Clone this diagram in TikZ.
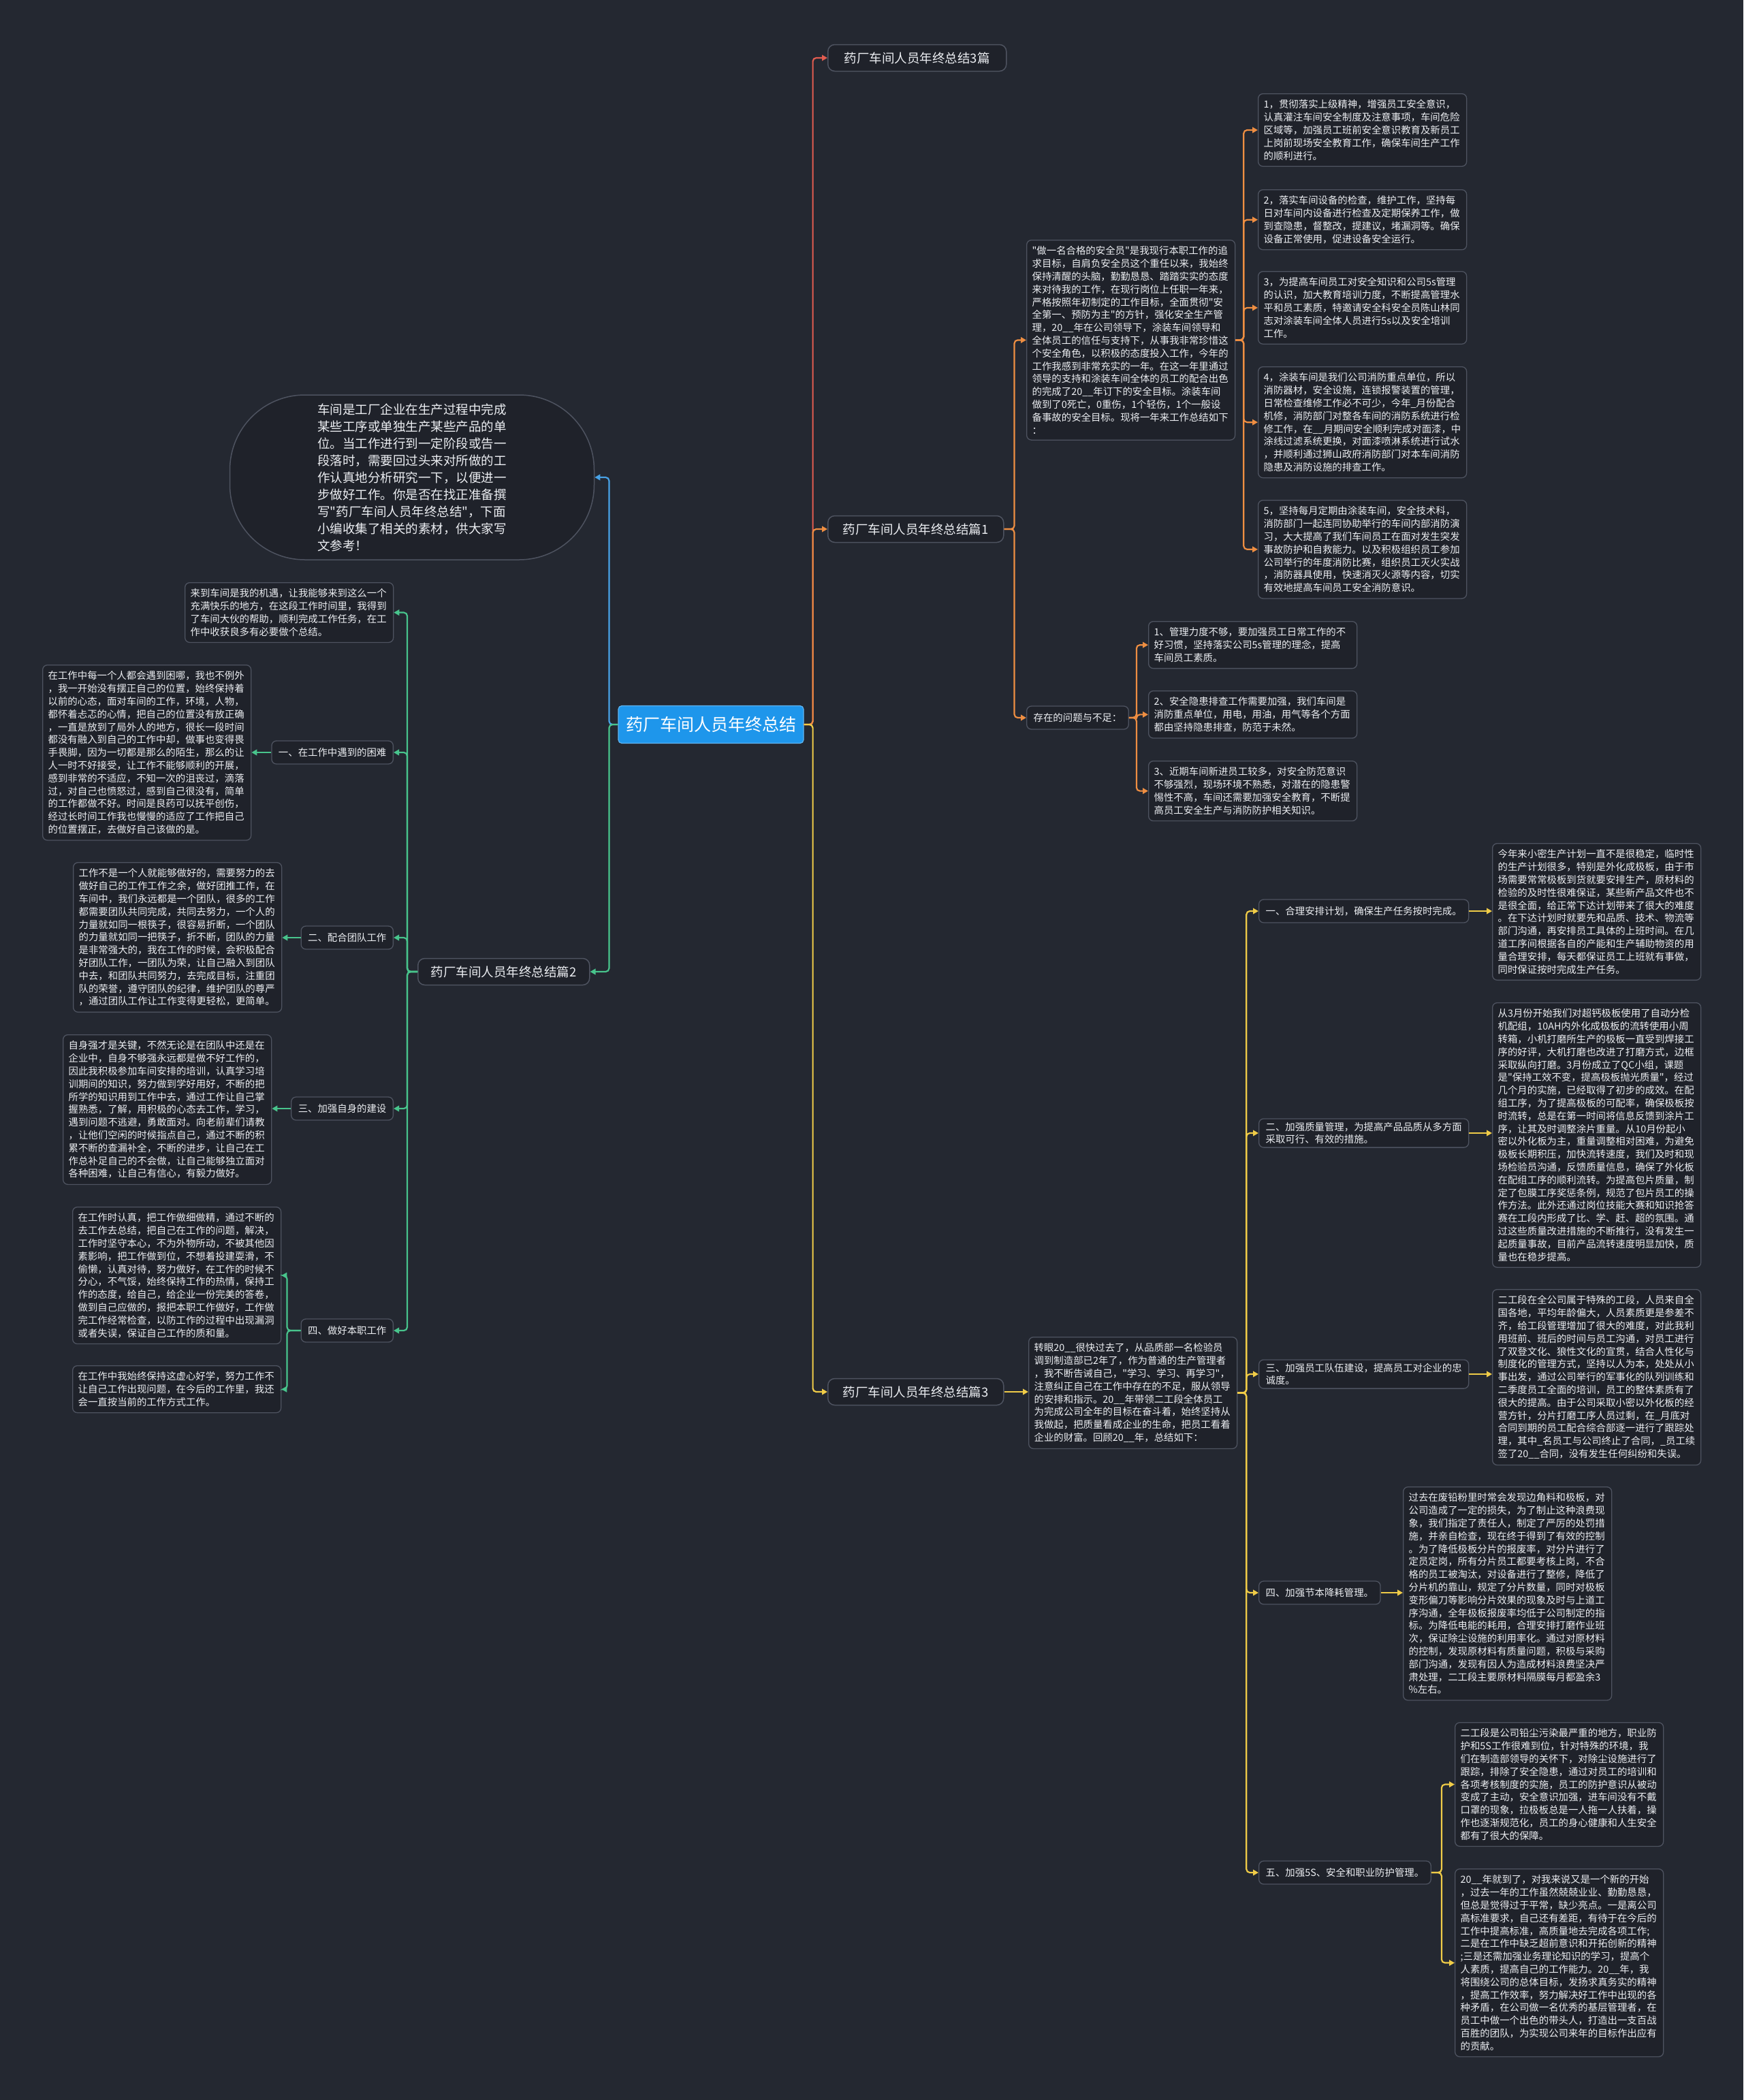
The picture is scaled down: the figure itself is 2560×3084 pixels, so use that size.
\documentclass[tikz,border=0pt]{standalone}
\usepackage{fontspec}
\setmainfont{Noto Sans CJK SC}[Ligatures=TeXOff]
\usetikzlibrary{arrows.meta,calc}
\definecolor{bg}{RGB}{36,40,49}
\definecolor{boxfill}{RGB}{31,34,42}
\definecolor{boxline}{RGB}{78,83,96}
\definecolor{txt}{RGB}{236,238,242}
\definecolor{rootfill}{RGB}{30,150,235}
\definecolor{cred}{RGB}{226,92,80}
\definecolor{corange}{RGB}{238,142,66}
\definecolor{cyellow}{RGB}{240,204,72}
\definecolor{cblue}{RGB}{72,162,230}
\definecolor{cgreen}{RGB}{72,196,140}
\newcommand\fsz{\fontsize{14.4pt}{18.8pt}\selectfont}
\newcommand\fbr{\fontsize{18.5pt}{22pt}\selectfont}
\newcommand\frt{\fontsize{25pt}{30pt}\selectfont}
\newcommand\fin{\fontsize{18.5pt}{25pt}\selectfont}
\tikzset{
  conn/.style={line width=2.2pt, rounded corners=5pt, -{Triangle[length=8pt,width=8.5pt]}},
  txtbox/.style={draw=boxline, fill=boxfill, line width=1.3pt, rounded corners=7pt, text=txt, font=\fsz, align=left, text width=290pt, inner xsep=8pt, inner ysep=9pt, anchor=north west},
  lbl/.style={draw=boxline, fill=boxfill, line width=1.3pt, rounded corners=7pt, text=txt, font=\fsz, align=left, inner xsep=10pt, inner ysep=5pt, minimum height=34pt},
  branch/.style={draw=boxline, fill=boxfill, line width=1.5pt, rounded corners=10pt, text=txt, font=\fbr, minimum height=39pt, inner xsep=10pt, anchor=west},
}
\begin{document}
\begin{tikzpicture}[x=1pt,y=-1pt]
\fill[bg] (0,0) rectangle (2560,3084);
\useasboundingbox (0,0) rectangle (2560,3084);

% root
\node[fill=rootfill, draw=rootfill!70!white, line width=1.2pt, rounded corners=5pt, text=white, font=\frt, minimum width=272pt, minimum height=55pt] (root) at (1044,1064) {药厂车间人员年终总结};

% intro
\node[draw=boxline, fill=boxfill, line width=1.5pt, rounded corners=110pt, minimum width=535pt, minimum height=242pt, text=txt, font=\fin, align=left] (intro) at (605,701) {车间是工厂企业在生产过程中完成\\某些工序或单独生产某些产品的单\\位。当工作进行到一定阶段或告一\\段落时，需要回过头来对所做的工\\作认真地分析研究一下，以便进一\\步做好工作。你是否在找正准备撰\\写"药厂车间人员年终总结"，下面\\小编收集了相关的素材，供大家写\\文参考！};

% first-level branches
\node[branch, minimum width=262pt] (pA) at (1215,85) {药厂车间人员年终总结3篇};
\node[branch, minimum width=258pt] (pB) at (1215,777) {药厂车间人员年终总结篇1};
\node[branch, minimum width=258pt] (pC) at (1215,2044) {药厂车间人员年终总结篇3};
\node[branch, minimum width=252pt] (pD) at (613,1427) {药厂车间人员年终总结篇2};

% ===== 篇1 =====
\node[txtbox] (m1) at (1507,352) {"做一名合格的安全员"是我现行本职工作的追\\求目标，自肩负安全员这个重任以来，我始终\\保持清醒的头脑，勤勤恳恳、踏踏实实的态度\\来对待我的工作，在现行岗位上任职一年来，\\严格按照年初制定的工作目标，全面贯彻"安\\全第一、预防为主"的方针，强化安全生产管\\理，20\_\_年在公司领导下，涂装车间领导和\\全体员工的信任与支持下，从事我非常珍惜这\\个安全角色，以积极的态度投入工作，今年的\\工作我感到非常充实的一年。在这一年里通过\\领导的支持和涂装车间全体的员工的配合出色\\的完成了20\_\_年订下的安全目标。涂装车间\\做到了0死亡，0重伤，1个轻伤，1个一般设\\备事故的安全目标。现将一年来工作总结如下\\：};

\node[txtbox] (t1) at (1847,137) {1，贯彻落实上级精神，增强员工安全意识，\\认真灌注车间安全制度及注意事项，车间危险\\区域等，加强员工班前安全意识教育及新员工\\上岗前现场安全教育工作，确保车间生产工作\\的顺利进行。};
\node[txtbox] (t2) at (1847,278) {2，落实车间设备的检查，维护工作，坚持每\\日对车间内设备进行检查及定期保养工作，做\\到查隐患，督整改，提建议，堵漏洞等。确保\\设备正常使用，促进设备安全运行。};
\node[txtbox] (t3) at (1847,398) {3，为提高车间员工对安全知识和公司5s管理\\的认识，加大教育培训力度，不断提高管理水\\平和员工素质，特邀请安全科安全员陈山林同\\志对涂装车间全体人员进行5s以及安全培训\\工作。};
\node[txtbox] (t4) at (1847,538) {4，涂装车间是我们公司消防重点单位，所以\\消防器材，安全设施，连锁报警装置的管理，\\日常检查维修工作必不可少，今年\_月份配合\\机修，消防部门对整各车间的消防系统进行检\\修工作，在\_\_月期间安全顺利完成对面漆，中\\涂线过滤系统更换，对面漆喷淋系统进行试水\\，并顺利通过狮山政府消防部门对本车间消防\\隐患及消防设施的排查工作。};
\node[txtbox] (t5) at (1847,734) {5，坚持每月定期由涂装车间，安全技术科，\\消防部门一起连同协助举行的车间内部消防演\\习，大大提高了我们车间员工在面对发生突发\\事故防护和自救能力。以及积极组织员工参加\\公司举行的年度消防比赛，组织员工灭火实战\\，消防器具使用，快速消灭火源等内容，切实\\有效地提高车间员工安全消防意识。};

\node[lbl, anchor=west] (q) at (1507,1054) {存在的问题与不足：};
\node[txtbox] (q1) at (1686,912) {1、管理力度不够，要加强员工日常工作的不\\好习惯，坚持落实公司5s管理的理念，提高\\车间员工素质。};
\node[txtbox] (q2) at (1686,1014) {2、安全隐患排查工作需要加强，我们车间是\\消防重点单位，用电，用油，用气等各个方面\\都由坚持隐患排查，防范于未然。};
\node[txtbox] (q3) at (1686,1117) {3、近期车间新进员工较多，对安全防范意识\\不够强烈，现场环境不熟悉，对潜在的隐患警\\惕性不高，车间还需要加强安全教育，不断提\\高员工安全生产与消防防护相关知识。};

% ===== 篇3 =====
\node[txtbox] (m3) at (1510,1963) {转眼20\_\_很快过去了，从品质部一名检验员\\调到制造部已2年了，作为普通的生产管理者\\，我不断告诫自己，"学习、学习、再学习"，\\注意纠正自己在工作中存在的不足，服从领导\\的安排和指示。20\_\_年带领二工段全体员工\\为完成公司全年的目标在奋斗着，始终坚持从\\我做起，把质量看成企业的生命，把员工看着\\企业的财富。回顾20\_\_年，总结如下：};

\node[lbl, anchor=west] (r1) at (1848,1338) {一、合理安排计划，确保生产任务按时完成。};
\node[lbl, anchor=west] (r2) at (1848,1664) {二、加强质量管理，为提高产品品质从多方面\\采取可行、有效的措施。};
\node[lbl, anchor=west] (r3) at (1848,2018) {三、加强员工队伍建设，提高员工对企业的忠\\诚度。};
\node[lbl, anchor=west] (r4) at (1848,2339) {四、加强节本降耗管理。};
\node[lbl, anchor=west] (r5) at (1848,2750) {五、加强5S、安全和职业防护管理。};

\node[txtbox] (b1) at (2191,1238) {今年来小密生产计划一直不是很稳定，临时性\\的生产计划很多，特别是外化成极板，由于市\\场需要常常极板到货就要安排生产，原材料的\\检验的及时性很难保证，某些新产品文件也不\\是很全面，给正常下达计划带来了很大的难度\\。在下达计划时就要先和品质、技术、物流等\\部门沟通，再安排员工具体的上班时间。在几\\道工序间根据各自的产能和生产辅助物资的用\\量合理安排，每天都保证员工上班就有事做，\\同时保证按时完成生产任务。};
\node[txtbox] (b2) at (2191,1472) {从3月份开始我们对超钙极板使用了自动分检\\机配组，10AH内外化成极板的流转使用小周\\转箱，小机打磨所生产的极板一直受到焊接工\\序的好评，大机打磨也改进了打磨方式，边框\\采取纵向打磨。3月份成立了QC小组，课题\\是"保持工效不变，提高极板抛光质量"，经过\\几个月的实施，已经取得了初步的成效。在配\\组工序，为了提高极板的可配率，确保极板按\\时流转，总是在第一时间将信息反馈到涂片工\\序，让其及时调整涂片重量。从10月份起小\\密以外化板为主，重量调整相对困难，为避免\\极板长期积压，加快流转速度，我们及时和现\\场检验员沟通，反馈质量信息，确保了外化板\\在配组工序的顺利流转。为提高包片质量，制\\定了包膜工序奖惩条例，规范了包片员工的操\\作方法。此外还通过岗位技能大赛和知识抢答\\赛在工段内形成了比、学、赶、超的氛围。通\\过这些质量改进措施的不断推行，没有发生一\\起质量事故，目前产品流转速度明显加快，质\\量也在稳步提高。};
\node[txtbox] (b3) at (2191,1893) {二工段在全公司属于特殊的工段，人员来自全\\国各地，平均年龄偏大，人员素质更是参差不\\齐，给工段管理增加了很大的难度，对此我利\\用班前、班后的时间与员工沟通，对员工进行\\了双登文化、狼性文化的宣贯，结合人性化与\\制度化的管理方式，坚持以人为本，处处从小\\事出发，通过公司举行的军事化的队列训练和\\二季度员工全面的培训，员工的整体素质有了\\很大的提高。由于公司采取小密以外化板的经\\营方针，分片打磨工序人员过剩，在\_月底对\\合同到期的员工配合综合部逐一进行了跟踪处\\理，其中\_名员工与公司终止了合同，\_员工续\\签了20\_\_合同，没有发生任何纠纷和失误。};
\node[txtbox] (b4) at (2060,2183) {过去在废铅粉里时常会发现边角料和极板，对\\公司造成了一定的损失，为了制止这种浪费现\\象，我们指定了责任人，制定了严厉的处罚措\\施，并亲自检查，现在终于得到了有效的控制\\。为了降低极板分片的报废率，对分片进行了\\定员定岗，所有分片员工都要考核上岗，不合\\格的员工被淘汰，对设备进行了整修，降低了\\分片机的靠山，规定了分片数量，同时对极板\\变形偏刀等影响分片效果的现象及时与上道工\\序沟通，全年极板报废率均低于公司制定的指\\标。为降低电能的耗用，合理安排打磨作业班\\次，保证除尘设施的利用率化。通过对原材料\\的控制，发现原材料有质量问题，积极与采购\\部门沟通，发现有因人为造成材料浪费坚决严\\肃处理，二工段主要原材料隔膜每月都盈余3\\\%左右。};
\node[txtbox] (b5a) at (2136,2529) {二工段是公司铅尘污染最严重的地方，职业防\\护和5S工作很难到位，针对特殊的环境，我\\们在制造部领导的关怀下，对除尘设施进行了\\跟踪，排除了安全隐患，通过对员工的培训和\\各项考核制度的实施，员工的防护意识从被动\\变成了主动，安全意识加强，进车间没有不戴\\口罩的现象，拉极板总是一人拖一人扶着，操\\作也逐渐规范化，员工的身心健康和人生安全\\都有了很大的保障。};
\node[txtbox] (b5b) at (2136,2744) {20\_\_年就到了，对我来说又是一个新的开始\\，过去一年的工作虽然兢兢业业、勤勤恳恳，\\但总是觉得过于平常，缺少亮点。一是离公司\\高标准要求，自己还有差距，有待于在今后的\\工作中提高标准，高质量地去完成各项工作;\\二是在工作中缺乏超前意识和开拓创新的精神\\;三是还需加强业务理论知识的学习，提高个\\人素质，提高自己的工作能力。20\_\_年，我\\将围绕公司的总体目标，发扬求真务实的精神\\，提高工作效率，努力解决好工作中出现的各\\种矛盾，在公司做一名优秀的基层管理者，在\\员工中做一个出色的带头人，打造出一支百战\\百胜的团队，为实现公司来年的目标作出应有\\的贡献。};

% ===== 篇2 =====
\node[txtbox] (lai) at (271,855) {来到车间是我的机遇，让我能够来到这么一个\\充满快乐的地方，在这段工作时间里，我得到\\了车间大伙的帮助，顺利完成工作任务，在工\\作中收获良多有必要做个总结。};
\node[lbl, anchor=east] (l1) at (578,1105) {一、在工作中遇到的困难};
\node[lbl, anchor=east] (l2) at (578,1377) {二、配合团队工作};
\node[lbl, anchor=east] (l3) at (578,1628) {三、加强自身的建设};
\node[lbl, anchor=east] (l4) at (578,1954) {四、做好本职工作};

\node[txtbox] (l1t) at (62,976) {在工作中每一个人都会遇到困哪，我也不例外\\，我一开始没有摆正自己的位置，始终保持着\\以前的心态，面对车间的工作，环境，人物，\\都怀着忐忑的心情，把自己的位置没有放正确\\，一直是放到了局外人的地方，很长一段时间\\都没有融入到自己的工作中却，做事也变得畏\\手畏脚，因为一切都是那么的陌生，那么的让\\人一时不好接受，让工作不能够顺利的开展，\\感到非常的不适应，不知一次的沮丧过，滴落\\过，对自己也愤怒过，感到自己很没有，简单\\的工作都做不好。时间是良药可以抚平创伤，\\经过长时间工作我也慢慢的适应了工作把自己\\的位置摆正，去做好自己该做的是。};
\node[txtbox] (l2t) at (107,1266) {工作不是一个人就能够做好的，需要努力的去\\做好自己的工作工作之余，做好团推工作，在\\车间中，我们永远都是一个团队，很多的工作\\都需要团队共同完成，共同去努力，一个人的\\力量就如同一根筷子，很容易折断，一个团队\\的力量就如同一把筷子，折不断，团队的力量\\是非常强大的，我在工作的时候，会积极配合\\好团队工作，一团队为荣，让自己融入到团队\\中去，和团队共同努力，去完成目标，注重团\\队的荣誉，遵守团队的纪律，维护团队的尊严\\，通过团队工作让工作变得更轻松，更简单。};
\node[txtbox] (l3t) at (92,1519) {自身强才是关键，不然无论是在团队中还是在\\企业中，自身不够强永远都是做不好工作的，\\因此我积极参加车间安排的培训，认真学习培\\训期间的知识，努力做到学好用好，不断的把\\所学的知识用到工作中去，通过工作让自己掌\\握熟悉，了解，用积极的心态去工作，学习，\\遇到问题不逃避，勇敢面对。向老前辈们请教\\，让他们空闲的时候指点自己，通过不断的积\\累不断的查漏补全，不断的进步，让自己在工\\作总补足自己的不会做，让自己能够独立面对\\各种困难，让自己有信心，有毅力做好。};
\node[txtbox] (l4a) at (106,1772) {在工作时认真，把工作做细做精，通过不断的\\去工作去总结，把自己在工作的问题，解决，\\工作时坚守本心，不为外物所动，不被其他因\\素影响，把工作做到位，不想着投建耍滑，不\\偷懒，认真对待，努力做好，在工作的时候不\\分心，不气馁，始终保持工作的热情，保持工\\作的态度，给自己，给企业一份完美的答卷，\\做到自己应做的，报把本职工作做好，工作做\\完工作经常检查，以防工作的过程中出现漏洞\\或者失误，保证自己工作的质和量。};
\node[txtbox] (l4b) at (106,2005) {在工作中我始终保持这虚心好学，努力工作不\\让自己工作出现问题，在今后的工作里，我还\\会一直按当前的工作方式工作。};

% ===== connectors =====
\draw[conn, cred] (root.east) -- ++(13,0) |- (pA.west);
\draw[conn, corange] (root.east) -- ++(13,0) |- (pB.west);
\draw[conn, cyellow] (root.east) -- ++(13,0) |- (pC.west);
\draw[conn, cblue] (root.west) -- ++(-13,0) |- (intro.east);
\draw[conn, cgreen] (root.west) -- ++(-13,0) |- (pD.east);

% 篇1
\draw[conn, corange] (pB.east) -- ++(15,0) |- (m1.west);
\draw[conn, corange] (pB.east) -- ++(15,0) |- (q.west);
\foreach \n in {t1,t2,t3,t4,t5}
  \draw[conn, corange] (m1.east) -- ++(12,0) |- (\n.west);
\foreach \n in {q1,q2,q3}
  \draw[conn, corange] (q.east) -- ++(11,0) |- (\n.west);

% 篇3
\draw[conn, cyellow] (pC.east) -- (pC.east -| m3.west);
\foreach \n in {r1,r2,r3,r4,r5}
  \draw[conn, cyellow] (m3.east) -- ++(13,0) |- (\n.west);
\draw[conn, cyellow] (r1.east) -- (r1.east -| b1.west);
\draw[conn, cyellow] (r2.east) -- (r2.east -| b2.west);
\draw[conn, cyellow] (r3.east) -- (r3.east -| b3.west);
\draw[conn, cyellow] (r4.east) -- (r4.east -| b4.west);
\draw[conn, cyellow] (r5.east) -- ++(15,0) |- (b5a.west);
\draw[conn, cyellow] (r5.east) -- ++(15,0) |- (b5b.west);

% 篇2
\foreach \n in {lai,l1,l2,l3,l4}
  \draw[conn, cgreen] (pD.west) -- ++(-15,0) |- (\n.east);
\draw[conn, cgreen] (l1.west) -- (l1.west -| l1t.east);
\draw[conn, cgreen] (l2.west) -- (l2.west -| l2t.east);
\draw[conn, cgreen] (l3.west) -- (l3.west -| l3t.east);
\draw[conn, cgreen] (l4.west) -- ++(-20,0) |- (l4a.east);
\draw[conn, cgreen] (l4.west) -- ++(-20,0) |- (l4b.east);
\end{tikzpicture}
\end{document}
